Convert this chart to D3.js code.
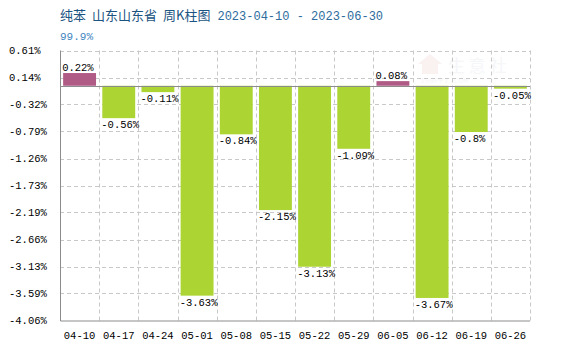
<!DOCTYPE html>
<html>
<head>
<meta charset="utf-8">
<script src="https://cdn.jsdelivr.net/npm/d3@7"></script>
<style>
  html, body { margin: 0; padding: 0; background: #fff; }
  svg { display: block; }
</style>
</head>
<body>
<svg id="chart" width="580" height="350"></svg>
<script>
// Weekly change of benzene price, Shandong
const weeks = ["04-10", "04-17", "04-24", "05-01", "05-08", "05-15", "05-22", "05-29", "06-05", "06-12", "06-19", "06-26"];
const changes = [0.22, -0.56, -0.11, -3.63, -0.84, -2.15, -3.13, -1.09, 0.08, -3.67, -0.8, -0.05];
const yTicks = [0.61, 0.14, -0.32, -0.79, -1.26, -1.73, -2.19, -2.66, -3.13, -3.59, -4.06];
const titleCn = ["纯苯", "山东山东省", "周K柱图"];
const titleDates = "2023-04-10 - 2023-06-30";
const subtitle = "99.9%";

const mono = "'Liberation Mono', 'DejaVu Sans Mono', monospace";
const cjk = "'Noto Sans CJK SC', sans-serif";

const svg = d3.select("#chart");
const plotLeft = 60, plotRight = 530, plotTop = 50.5, plotBottom = 320.5;

const x = d3.scaleBand().domain(weeks).range([plotLeft, plotRight]).paddingInner(0.16).paddingOuter(0.08);
const y = d3.scaleLinear().domain([d3.min(yTicks), d3.max(yTicks)]).range([plotBottom, plotTop]);
const step = x.step();

// title
const title = svg.append("text").attr("x", 60).attr("y", 20).attr("fill", "#1b5482")
  .attr("font-family", cjk).attr("font-size", 13);
titleCn.forEach((part, i) => {
  title.append("tspan").attr("dx", i ? 6 : 0).text(part);
});
title.append("tspan").attr("dx", 7).attr("font-family", mono).attr("font-size", 12)
  .attr("fill", "#2d6c9c").text(titleDates);
svg.append("text").attr("x", 60).attr("y", 40).attr("font-family", mono).attr("font-size", 11)
  .attr("fill", "#3f86bf").text(subtitle);

// faint watermark
const wm = svg.append("g").attr("opacity", 0.5);
wm.append("path")
  .attr("d", "M418,64 L430,54 L442,64 L438,64 L438,74 L422,74 L422,64 Z")
  .attr("fill", "#f6e4e4");
wm.append("text").attr("x", 448).attr("y", 72).attr("font-family", cjk).attr("font-size", 17)
  .attr("fill", "#eceef3").text("生 意 社");
wm.append("text").attr("x", 420).attr("y", 83).attr("font-family", mono).attr("font-size", 8)
  .attr("fill", "#eceef3").text("100PPI.COM");

// horizontal dashed grid
svg.append("g").selectAll("line").data(yTicks.slice(0, -1)).join("line")
  .attr("x1", plotLeft).attr("x2", plotRight)
  .attr("y1", d => Math.round(y(d)) + 0.5).attr("y2", d => Math.round(y(d)) + 0.5)
  .attr("stroke", "#c8c8c8").attr("stroke-dasharray", "4,3");

// vertical dashed grid at band boundaries
svg.append("g").selectAll("line").data(weeks).join("line")
  .attr("x1", d => Math.round(x(d) - step * 0.08 + step) + 0.5)
  .attr("x2", d => Math.round(x(d) - step * 0.08 + step) + 0.5)
  .attr("y1", plotTop).attr("y2", plotBottom)
  .attr("stroke", "#c8c8c8").attr("stroke-dasharray", "4,3");

// bars
svg.append("g").selectAll("rect").data(changes).join("rect")
  .attr("x", (d, i) => x(weeks[i]))
  .attr("width", x.bandwidth())
  .attr("y", d => y(Math.max(0, d)))
  .attr("height", d => Math.abs(y(d) - y(0)))
  .attr("fill", d => d >= 0 ? "#b05a86" : "#acd433");

// zero line and axes
svg.append("line").attr("x1", plotLeft).attr("x2", plotRight)
  .attr("y1", Math.round(y(0)) + 0.5).attr("y2", Math.round(y(0)) + 0.5)
  .attr("stroke", "#8c8c8c");
svg.append("path")
  .attr("d", `M${plotLeft + 0.5},${plotTop} V${plotBottom + 0.5} H${plotRight}`)
  .attr("fill", "none").attr("stroke", "#8c8c8c");

// value labels
svg.append("g").selectAll("text").data(changes).join("text")
  .attr("x", (d, i) => x(weeks[i]) - 1)
  .attr("y", d => d >= 0 ? y(d) - 2 : y(d) + 10)
  .attr("font-family", mono).attr("font-size", 10.5).attr("fill", "#000")
  .text(d => d + "%");

// y tick labels
svg.append("g").selectAll("text").data(yTicks).join("text")
  .attr("x", 9).attr("y", d => y(d) + 3.5)
  .attr("font-family", mono).attr("font-size", 10.5).attr("fill", "#000")
  .text(d => d.toFixed(2) + "%");

// x tick labels
svg.append("g").selectAll("text").data(weeks).join("text")
  .attr("x", d => x(d) + x.bandwidth() / 2).attr("y", 339)
  .attr("text-anchor", "middle")
  .attr("font-family", mono).attr("font-size", 10.5).attr("fill", "#000")
  .text(d => d);
</script>
</body>
</html>
